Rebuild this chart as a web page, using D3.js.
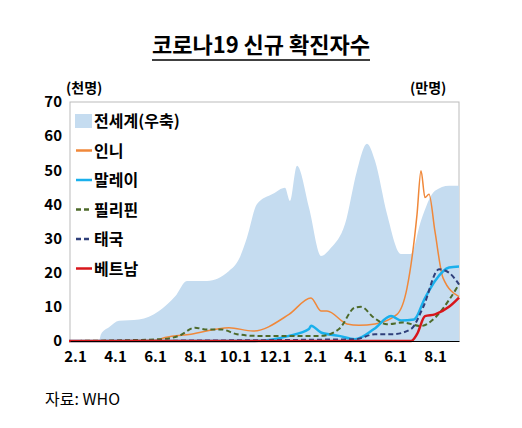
<!DOCTYPE html><html><head><meta charset="utf-8"><script src="https://d3js.org/d3.v7.min.js"></script>
<style>body{margin:0;background:#fff}text{font-family:"Noto Sans CJK KR",sans-serif}</style></head><body><svg id="c" width="522" height="428"></svg>
<script>
const xTickLabels=["2.1","4.1","6.1","8.1","10.1","12.1","2.1","4.1","6.1","8.1"];
const yTicks=[0,10,20,30,40,50,60,70];
// t = months since 2020-02-01
const worldT=[-0.3,1.2,1.3,1.7,2.2,3.2,4.2,5.0,5.6,6.6,7.7,8.2,8.6,9.1,9.9,10.5,10.75,11.1,11.7,12.3,12.8,13.5,14.1,14.6,15.0,15.6,16.3,16.8,17.3,18.0,18.7,19.2];
const worldV=[0,0,2,4,5.9,6.3,8.8,13,17.6,17.6,20.5,24,30.3,40.1,43.1,44.9,41,51.3,39,24.9,27.3,34.3,49.9,57.8,52.8,37.2,25.5,25.5,35.2,44,45.5,45.5];
const indoT=[-0.3,4,4.5,5.8,7.7,8.9,10.7,11.8,12.3,12.6,13.6,14.2,15,16.1,16.6,17.1,17.3,17.5,17.7,18,18.4,19.2];
const indoV=[0,0.2,1,2,3.9,2.9,7.8,12.6,8.8,8.8,5,4.6,5,7.8,15.5,37,49.9,42,43,32,18.5,13];
const malT=[-0.3,9,10.7,11.7,11.8,12.3,13.2,14,14.95,15.8,16.3,16.95,17.5,18,18.7,19.2];
const malV=[0,0,1.5,3.5,4.5,2.5,1.5,0.5,3.5,7.3,6,6.3,12.6,17.6,21.5,21.8];
const phT=[-0.3,4.2,5.2,6,6.5,7.3,8.1,9.1,10.7,12.3,13.2,14,14.3,14.95,15.6,16.4,17.3,18,18.7,19.2];
const phV=[0,0.5,1.5,3.9,3.4,3.4,2,1.5,1.5,1.5,3.5,9.8,10,6.8,4.9,5.4,4.4,6.8,12,16.6];
const thT=[-0.3,14,15,15.9,16.8,17.4,18.2,18.7,19.2];
const thV=[0,0.5,2,2,3.5,9.8,21,20,16.6];
const vnT=[-0.3,16.8,17.1,17.5,18,18.7,19.2];
const vnV=[0,0,2,7.3,7.8,10,12.7];
const svg=d3.select("#c");
const L=70,R=459,T=102,B=341;
const x=d3.scaleLinear().domain([-0.25,19.2]).range([L,R]);
const y=d3.scaleLinear().domain([0,70]).range([B,T]);
svg.append("text").attr("x",261).attr("y",53).attr("text-anchor","middle").attr("font-size",22).attr("font-weight","bold").text("코로나19 신규 확진자수");
svg.append("line").attr("x1",152).attr("x2",370).attr("y1",60).attr("y2",60).attr("stroke","#000").attr("stroke-width",1.5);
svg.append("rect").attr("x",L).attr("y",T).attr("width",R-L).attr("height",B-T).attr("fill","none").attr("stroke","#bbb");
const z=(a,b)=>a.map((t,i)=>[t,b[i]]);
svg.append("path").datum(z(worldT,worldV)).attr("fill","#c5dcf0").attr("d",d3.area().x(d=>x(d[0])).y0(B).y1(d=>y(d[1])).curve(d3.curveMonotoneX));
const line=d3.line().x(d=>x(d[0])).y(d=>y(d[1])).curve(d3.curveMonotoneX);
const ser=[[indoT,indoV,"#f0883a",1.5,null],[malT,malV,"#1ab0ec",2.5,null],[phT,phV,"#4d6a2a",2,"5,3"],[thT,thV,"#2f3f7a",2,"5,3"],[vnT,vnV,"#d8161b",2.5,null]];
ser.forEach(s=>svg.append("path").datum(z(s[0],s[1])).attr("fill","none").attr("stroke",s[2]).attr("stroke-width",s[3]).attr("stroke-dasharray",s[4]).attr("d",line));
const ya=svg.append("g").attr("transform",`translate(${L},0)`).call(d3.axisLeft(y).tickValues(yTicks).tickSize(0).tickPadding(8));
ya.select(".domain").remove();ya.selectAll("text").attr("font-size",15).attr("font-weight","bold").attr("fill","#000");
const xa=svg.append("g").attr("transform",`translate(0,${B})`).call(d3.axisBottom(x).tickValues(d3.range(0,20,2)).tickFormat((d,i)=>xTickLabels[i]).tickSize(0).tickPadding(10));
xa.select(".domain").attr("stroke","#000");xa.selectAll("text").attr("font-size",15).attr("font-weight","bold").attr("fill","#000");
svg.append("text").attr("x",66).attr("y",93).attr("font-size",14).attr("font-weight","bold").text("(천명)");
svg.append("text").attr("x",410).attr("y",93).attr("font-size",14).attr("font-weight","bold").text("(만명)");
const leg=[["전세계(우축)","#c5dcf0",null,"box"],["인니","#f0883a",null],["말레이","#1ab0ec",null],["필리핀","#4d6a2a","5,3"],["태국","#2f3f7a","5,3"],["베트남","#d8161b",null]];
leg.forEach((l,i)=>{const yy=121+i*29.5;
 if(l[3])svg.append("rect").attr("x",75).attr("y",yy-7).attr("width",17).attr("height",14).attr("fill",l[1]);
 else svg.append("line").attr("x1",76).attr("x2",92).attr("y1",yy).attr("y2",yy).attr("stroke",l[1]).attr("stroke-width",2.5).attr("stroke-dasharray",l[2]);
 svg.append("text").attr("x",94).attr("y",yy+6).attr("font-size",16).attr("font-weight","bold").text(l[0]);});
svg.append("text").attr("x",45).attr("y",405).attr("font-size",16).attr("font-family","Liberation Serif, Noto Sans CJK KR").text("자료: WHO");
</script></body></html>
